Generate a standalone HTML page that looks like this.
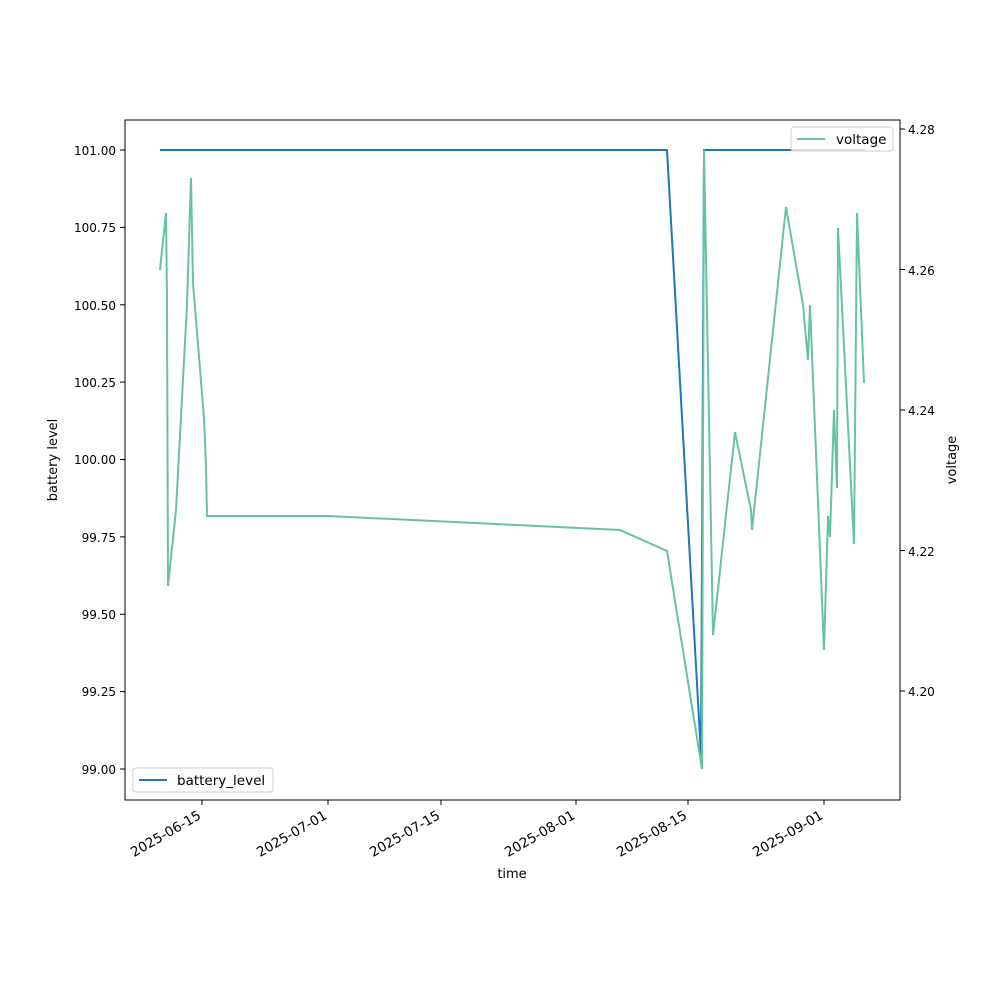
<!DOCTYPE html><html><head><style>body{margin:0;background:#fff}svg{font-family:"DejaVu Sans","Liberation Sans",sans-serif;font-size:12px}.d text{font-size:13.5px}</style></head><body>
<svg width="1000" height="1000" xmlns="http://www.w3.org/2000/svg">
<rect width="1000" height="1000" fill="#fff"/>
<polyline fill="none" stroke="#1f77b4" stroke-width="2" points="160,150 667,150 701,755 704,150 865,150"/>
<polyline fill="none" stroke="#66c2a5" stroke-width="2" points="160,270 166,213 167,300 168,586 176,510 187,305 191,178 193,283 204,418 206,466 207,516 328,516 620,530 667,551 702,769 704,150 713,635 735,432 751,510 752,530 786,207 803,305 808,360 810,305 824,650 828,516 830,537 834,410 837,488 838,228 854,544 857,213 864,383"/>
<rect x="125" y="120" width="775" height="680" fill="none" stroke="#000" stroke-width="1"/>
<g stroke="#000">
<line x1="120" x2="125" y1="150" y2="150"/><line x1="120" x2="125" y1="227.4" y2="227.4"/><line x1="120" x2="125" y1="304.8" y2="304.8"/><line x1="120" x2="125" y1="382.1" y2="382.1"/><line x1="120" x2="125" y1="459.5" y2="459.5"/><line x1="120" x2="125" y1="536.9" y2="536.9"/><line x1="120" x2="125" y1="614.3" y2="614.3"/><line x1="120" x2="125" y1="691.6" y2="691.6"/><line x1="120" x2="125" y1="769" y2="769"/>
<line x1="900" x2="905" y1="129" y2="129"/><line x1="900" x2="905" y1="269.5" y2="269.5"/><line x1="900" x2="905" y1="410" y2="410"/><line x1="900" x2="905" y1="550.5" y2="550.5"/><line x1="900" x2="905" y1="691" y2="691"/>
<line y1="800" y2="805" x1="202" x2="202"/><line y1="800" y2="805" x1="328" x2="328"/><line y1="800" y2="805" x1="441" x2="441"/><line y1="800" y2="805" x1="576" x2="576"/><line y1="800" y2="805" x1="688" x2="688"/><line y1="800" y2="805" x1="824" x2="824"/>
</g>
<g text-anchor="end">
<text x="116" y="155">101.00</text><text x="116" y="232">100.75</text><text x="116" y="310">100.50</text><text x="116" y="387">100.25</text><text x="116" y="464">100.00</text><text x="116" y="542">99.75</text><text x="116" y="619">99.50</text><text x="116" y="696">99.25</text><text x="116" y="774">99.00</text>
</g>
<g><text x="908" y="134">4.28</text><text x="908" y="275">4.26</text><text x="908" y="415">4.24</text><text x="908" y="556">4.22</text><text x="908" y="696">4.20</text></g>
<g text-anchor="end" class="d">
<text transform="translate(202,818) rotate(-30)">2025-06-15</text><text transform="translate(328,818) rotate(-30)">2025-07-01</text><text transform="translate(441,818) rotate(-30)">2025-07-15</text><text transform="translate(576,818) rotate(-30)">2025-08-01</text><text transform="translate(688,818) rotate(-30)">2025-08-15</text><text transform="translate(824,818) rotate(-30)">2025-09-01</text>
</g>
<text x="512" y="878" text-anchor="middle" style="font-size:13px">time</text>
<text transform="translate(57,460) rotate(-90)" text-anchor="middle" style="font-size:13px">battery level</text>
<text transform="translate(956,460) rotate(-90)" text-anchor="middle" style="font-size:13px">voltage</text>
<rect x="133" y="768" width="140" height="24" rx="3" fill="#fff" fill-opacity="0.8" stroke="#ccc"/>
<line x1="139" x2="167" y1="780" y2="780" stroke="#1f77b4" stroke-width="2"/>
<text x="177" y="785" style="font-size:13.5px">battery_level</text>
<rect x="791" y="127" width="102" height="24" rx="3" fill="#fff" fill-opacity="0.8" stroke="#ccc"/>
<line x1="797" x2="825" y1="139" y2="139" stroke="#66c2a5" stroke-width="2"/>
<text x="836" y="144" style="font-size:13.5px">voltage</text>
</svg></body></html>
